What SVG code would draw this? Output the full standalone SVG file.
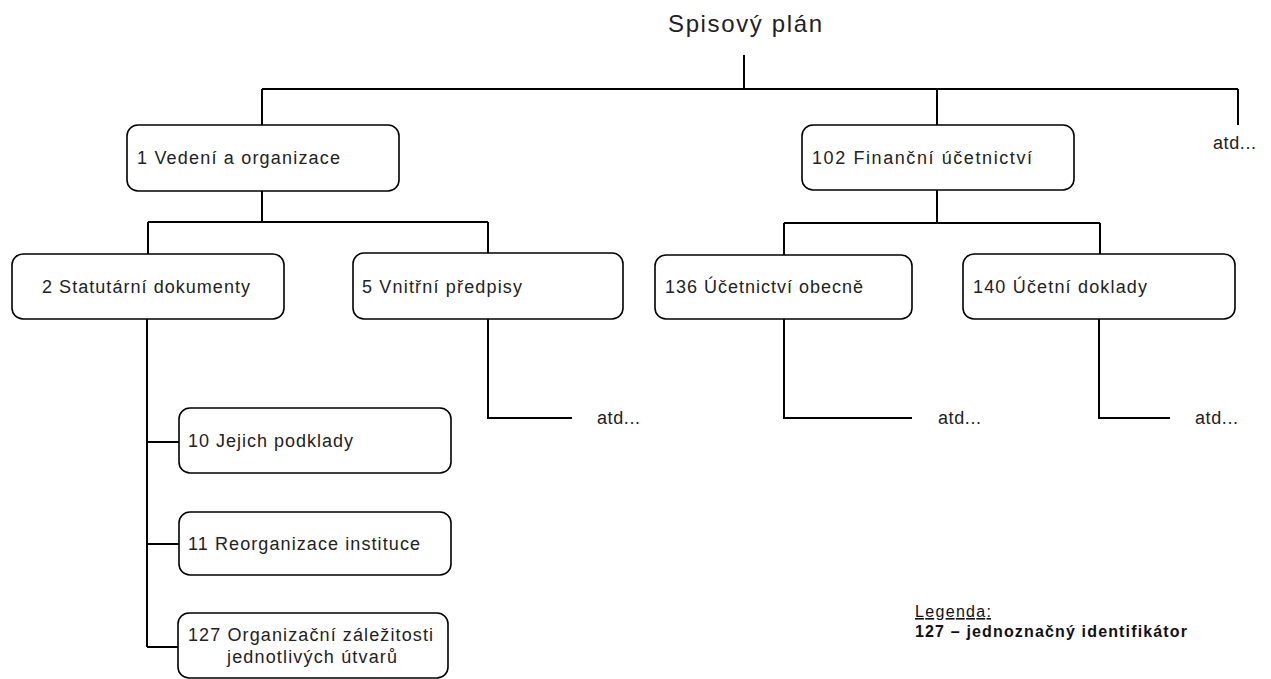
<svg xmlns="http://www.w3.org/2000/svg" width="1271" height="679" viewBox="0 0 1271 679">
<style>
.box{fill:#fff;stroke:#000;stroke-width:1.6}
.t{font-family:"Liberation Sans",Arial,sans-serif;font-size:18px;fill:#222}
.c{fill:none;stroke:#000;stroke-width:2}
.lg{font-family:"Liberation Sans",Arial,sans-serif;font-size:16px;fill:#111}
</style>
<rect width="1271" height="679" fill="#fff"/>
<g id="connectors">
<path class="c" d="M744 55V89M262 89H1238M262 89V125M937 89V125M1238 89V125"/>
<path class="c" d="M262 191V222M148 222H488M148 222V254M488 222V253"/>
<path class="c" d="M937 190V223M784 223H1100M784 223V255M1100 223V254"/>
<path class="c" d="M147 319V647M147 442H179M147 544H179M147 647H178"/>
<path class="c" d="M488 319V418H572M784 319V418H912M1099 319V418H1170"/>
</g>
<text class="t" x="668" y="32" textLength="154" lengthAdjust="spacing" style="font-size:24px">Spisový plán</text>
<g id="n1"><rect class="box" x="127" y="125" width="272" height="66" rx="11"/><text class="t" x="137" y="164" textLength="203" lengthAdjust="spacing">1 Vedení a organizace</text></g>
<g id="n102"><rect class="box" x="802" y="125" width="272" height="65" rx="11"/><text class="t" x="812" y="164" textLength="220" lengthAdjust="spacing">102 Finanční účetnictví</text></g>
<text id="atd0" class="t" x="1213" y="149" textLength="43" lengthAdjust="spacing">atd...</text>
<g id="n2"><rect class="box" x="12" y="254" width="272" height="65" rx="11"/><text class="t" x="42" y="293" textLength="208" lengthAdjust="spacing">2 Statutární dokumenty</text></g>
<g id="n5"><rect class="box" x="353" y="253" width="270" height="66" rx="11"/><text class="t" x="362" y="293" textLength="160" lengthAdjust="spacing">5 Vnitřní předpisy</text></g>
<g id="n136"><rect class="box" x="655" y="255" width="257" height="64" rx="11"/><text class="t" x="665" y="293" textLength="198" lengthAdjust="spacing">136 Účetnictví obecně</text></g>
<g id="n140"><rect class="box" x="963" y="254" width="272" height="65" rx="11"/><text class="t" x="973" y="293" textLength="174" lengthAdjust="spacing">140 Účetní doklady</text></g>
<text class="t" x="597" y="424" textLength="43" lengthAdjust="spacing">atd...</text>
<text class="t" x="938" y="424" textLength="43" lengthAdjust="spacing">atd...</text>
<text class="t" x="1195" y="424" textLength="43" lengthAdjust="spacing">atd...</text>
<g id="n10"><rect class="box" x="179" y="408" width="272" height="65" rx="11"/><text class="t" x="188" y="447" textLength="165" lengthAdjust="spacing">10 Jejich podklady</text></g>
<g id="n11"><rect class="box" x="179" y="512" width="272" height="63" rx="11"/><text class="t" x="188" y="550" textLength="232" lengthAdjust="spacing">11 Reorganizace instituce</text></g>
<g id="n127"><rect class="box" x="178" y="613" width="270" height="65" rx="11"/><text class="t" x="188" y="641" textLength="245" lengthAdjust="spacing">127 Organizační záležitosti</text><text class="t" x="227" y="663" textLength="170" lengthAdjust="spacing">jednotlivých útvarů</text></g>
<g id="legend"><text class="lg" x="915" y="617" textLength="76" lengthAdjust="spacing" text-decoration="underline">Legenda:</text><text class="lg" x="915" y="637" textLength="272" lengthAdjust="spacing" font-weight="bold">127 – jednoznačný identifikátor</text></g>
</svg>
